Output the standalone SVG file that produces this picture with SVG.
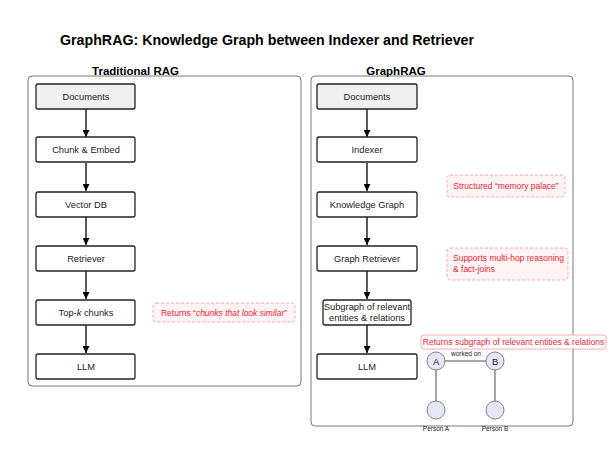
<svg xmlns="http://www.w3.org/2000/svg" width="615" height="470" viewBox="0 0 615 470">
<defs>
<marker id="ah" viewBox="0 0 10 10" refX="10" refY="5" markerWidth="7" markerHeight="7" markerUnits="userSpaceOnUse" orient="auto"><path d="M0,0 L10,5 L0,10 z" fill="#000"/></marker>
<style>
text{font-family:"Liberation Sans",Arial,sans-serif;}
.title{font-size:14.5px;font-weight:bold;fill:#000;}
.ptitle{font-size:11.5px;font-weight:bold;fill:#000;text-anchor:middle;}
.panel{fill:#fff;stroke:#555;stroke-width:0.8;}
.box{fill:#fff;stroke:#222;stroke-width:1.3;}
.doc{fill:#f0f0f0;stroke:#222;stroke-width:1.3;}
.lbl{font-size:9.3px;fill:#222;text-anchor:middle;}
.note{fill:#fff3f4;stroke:#f29aa3;stroke-width:0.8;stroke-dasharray:3,2;}
.note2{fill:#ffffff;fill-opacity:0.85;stroke:#f29aa3;stroke-width:0.8;}
.ntxt{font-size:8.5px;fill:#e8283a;}
.arr{stroke:#000;stroke-width:1.3;fill:none;marker-end:url(#ah);}
.edge{stroke:#888;stroke-width:1.5;}
.ent{fill:#e6e6f8;stroke:#777;stroke-width:0.9;}
.small{font-size:6.5px;fill:#222;text-anchor:middle;}
</style>
</defs>
<rect width="615" height="470" fill="#fff"/>
<text class="title" x="60" y="45" textLength="414" lengthAdjust="spacingAndGlyphs">GraphRAG: Knowledge Graph between Indexer and Retriever</text>

<g id="panel-traditional">
<rect class="panel" x="28" y="76" width="273" height="310" rx="4"/>
<text class="ptitle" x="135.5" y="75">Traditional RAG</text>
</g>
<g id="panel-graphrag">
<rect class="panel" x="311" y="76" width="262" height="350" rx="4"/>
<text class="ptitle" x="396" y="75">GraphRAG</text>
</g>

<g id="connectors">
<line class="arr" x1="86" y1="109" x2="86" y2="137"/>
<line class="arr" x1="86" y1="163" x2="86" y2="191"/>
<line class="arr" x1="86" y1="217" x2="86" y2="245"/>
<line class="arr" x1="86" y1="271" x2="86" y2="299"/>
<line class="arr" x1="86" y1="325" x2="86" y2="353"/>
<line class="arr" x1="367" y1="109" x2="367" y2="137"/>
<line class="arr" x1="367" y1="163" x2="367" y2="191"/>
<line class="arr" x1="367" y1="217" x2="367" y2="245"/>
<line class="arr" x1="367" y1="271" x2="367" y2="299"/>
<line class="arr" x1="367" y1="325" x2="367" y2="353"/>
<line class="edge" x1="436" y1="361" x2="495" y2="361"/>
<line class="edge" x1="436" y1="361" x2="436" y2="410"/>
<line class="edge" x1="495" y1="361" x2="495" y2="410"/>
</g>

<g id="t-documents"><rect class="doc" x="36" y="84" width="99" height="25" rx="2"/><text class="lbl" x="86" y="99.5">Documents</text></g>
<g id="t-chunk"><rect class="box" x="36" y="137" width="99" height="25" rx="2"/><text class="lbl" x="86" y="152.5">Chunk &amp; Embed</text></g>
<g id="t-vectordb"><rect class="box" x="36" y="192" width="99" height="25" rx="2"/><text class="lbl" x="86" y="207.5">Vector DB</text></g>
<g id="t-retriever"><rect class="box" x="36" y="246" width="99" height="25" rx="2"/><text class="lbl" x="86" y="261.5">Retriever</text></g>
<g id="t-topk"><rect class="box" x="36" y="300" width="99" height="25" rx="2"/><text class="lbl" x="86" y="315.5">Top-<tspan font-style="italic">k</tspan> chunks</text></g>
<g id="t-llm"><rect class="box" x="36" y="354" width="99" height="25" rx="2"/><text class="lbl" x="86" y="369.5">LLM</text></g>
<g id="t-note"><rect class="note" x="153" y="303" width="142" height="19" rx="3"/><text class="ntxt" x="224" y="315.5" text-anchor="middle">Returns “<tspan font-style="italic">chunks that look similar</tspan>”</text></g>

<g id="g-documents"><rect class="doc" x="317" y="84" width="100" height="25" rx="2"/><text class="lbl" x="367" y="99.5">Documents</text></g>
<g id="g-indexer"><rect class="box" x="317" y="137" width="100" height="25" rx="2"/><text class="lbl" x="367" y="152.5">Indexer</text></g>
<g id="g-kg"><rect class="box" x="317" y="192" width="100" height="25" rx="2"/><text class="lbl" x="367" y="207.5">Knowledge Graph</text></g>
<g id="g-retriever"><rect class="box" x="317" y="246" width="100" height="25" rx="2"/><text class="lbl" x="367" y="261.5">Graph Retriever</text></g>
<g id="g-subgraph"><rect class="box" x="323" y="300" width="88" height="25" rx="2"/><text class="lbl" x="367" y="310" font-size="7.6">Subgraph of relevant</text><text class="lbl" x="367" y="320.5" font-size="7.6">entities &amp; relations</text></g>
<g id="g-llm"><rect class="box" x="317" y="354" width="100" height="25" rx="2"/><text class="lbl" x="367" y="369.5">LLM</text></g>
<g id="g-note1"><rect class="note" x="447" y="175" width="118" height="22" rx="3"/><text class="ntxt" x="506" y="189" text-anchor="middle">Structured “memory palace”</text></g>
<g id="g-note2"><rect class="note" x="447" y="248" width="121" height="32" rx="3"/><text class="ntxt" x="453" y="261">Supports multi-hop reasoning</text><text class="ntxt" x="453" y="272">&amp; fact-joins</text></g>

<g id="entity-a"><circle class="ent" cx="436" cy="361" r="9"/><text class="lbl" x="436" y="364.5" font-size="10">A</text></g>
<g id="entity-b"><circle class="ent" cx="495" cy="361" r="9"/><text class="lbl" x="495" y="364.5" font-size="10">B</text></g>
<g id="person-a"><circle class="ent" cx="436" cy="410" r="9"/><text class="small" x="436" y="431">Person A</text></g>
<g id="person-b"><circle class="ent" cx="495" cy="410" r="9"/><text class="small" x="495" y="431">Person B</text></g>
<text class="small" x="466" y="356">worked on</text>
<g id="g-note3"><rect class="note2" x="421" y="335" width="185" height="14" rx="3"/><text class="ntxt" x="513.5" y="345" text-anchor="middle">Returns subgraph of relevant entities &amp; relations</text></g>
</svg>
